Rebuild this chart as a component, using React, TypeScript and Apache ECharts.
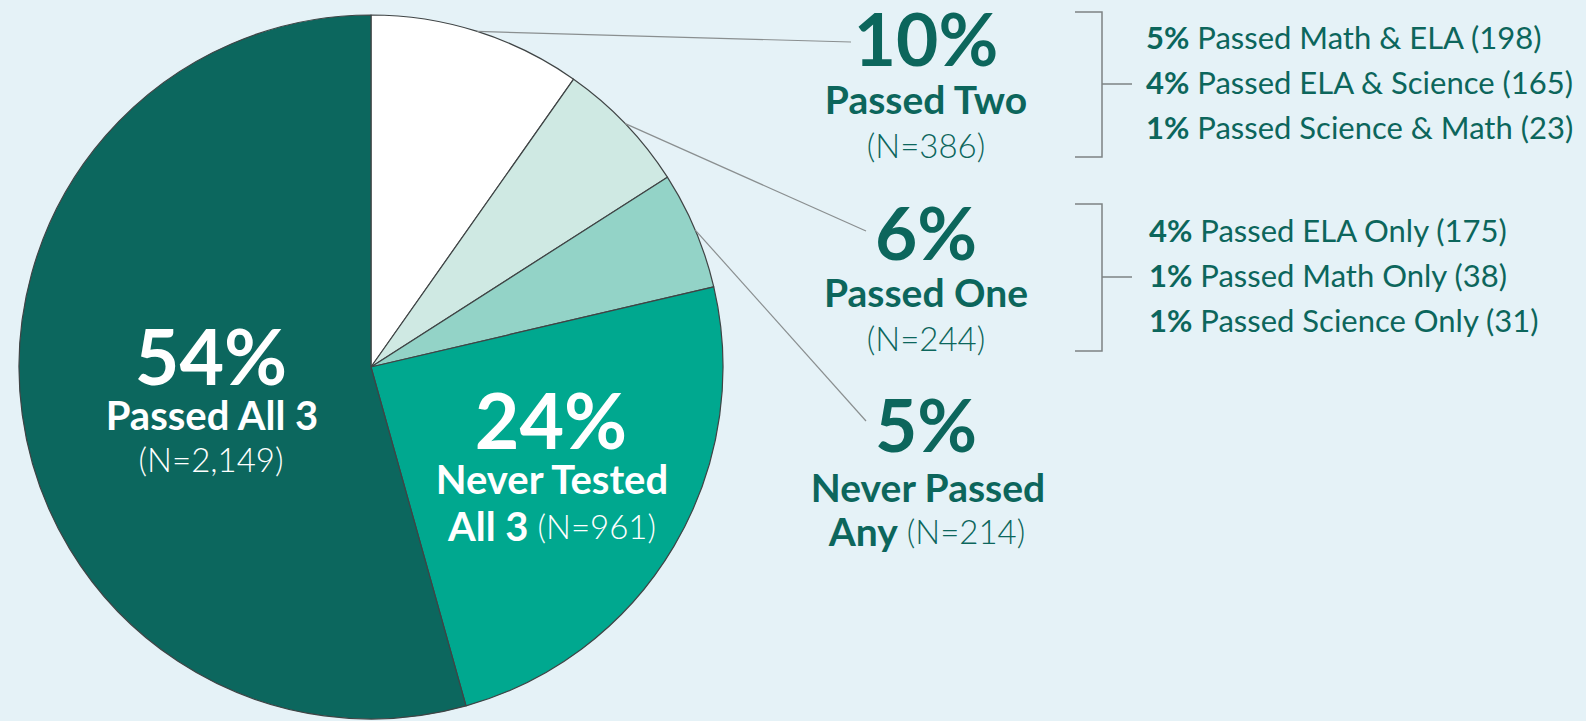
import React, { useEffect, useRef } from "react";
import * as echarts from "echarts";

// ---- Data ----
const categories = ["Passed Two", "Passed One", "Never Passed Any", "Never Tested All 3", "Passed All 3"];
const counts = [386, 244, 214, 961, 2149];
const percents = [10, 6, 5, 24, 54];
const sliceColors = ["#ffffff", "#cfe9e3", "#93d3c7", "#00a88f", "#0c675e"];

const passedTwoPct = [5, 4, 1];
const passedTwoLabels = ["Passed Math & ELA", "Passed ELA & Science", "Passed Science & Math"];
const passedTwoN = [198, 165, 23];

const passedOnePct = [4, 1, 1];
const passedOneLabels = ["Passed ELA Only", "Passed Math Only", "Passed Science Only"];
const passedOneN = [175, 38, 31];

const fmt = (n: number) => n.toLocaleString("en-US");

const W = 1586;
const H = 721;
const CX = 371;
const CY = 367;
const R = 352;
const GREEN = "#0c665c";
const FONT = "Lato, 'Open Sans', sans-serif";

export default function App() {
  const ref = useRef<HTMLDivElement>(null);

  useEffect(() => {
    document.body.style.margin = "0";
    const chart = echarts.init(ref.current!, undefined, { renderer: "svg", width: W, height: H });

    const total = counts.reduce((a, b) => a + b, 0);
    // mid-angle (clockwise from 12 o'clock) of each slice
    const mids: number[] = [];
    let acc = 0;
    counts.forEach((c) => {
      mids.push(((acc + c / 2) / total) * Math.PI * 2);
      acc += c;
    });
    const edgePt = (a: number) => [CX + R * Math.sin(a), CY - R * Math.cos(a)];

    const graphics: any[] = [];
    const txt = (text: string, x: number, y: number, size: number, weight: any, fill: string, align = "center") =>
      graphics.push({
        type: "text",
        silent: true,
        z: 100,
        style: {
          text,
          x,
          y,
          fill,
          fontSize: size,
          fontWeight: weight,
          fontFamily: FONT,
          lineHeight: Math.round(size * 0.78),
          textAlign: align,
          textVerticalAlign: "middle",
        },
      });
    const richTxt = (bold: string, light: string, x: number, y: number, fill: string, bs: number, ls: number, lw: number, align = "center") =>
      graphics.push({
        type: "text",
        silent: true,
        z: 100,
        style: {
          text: `{b|${bold}}{l|${light}}`,
          x,
          y,
          textAlign: align,
          textVerticalAlign: "middle",
          fill,
          rich: {
            b: { fontSize: bs, fontWeight: 700, fontFamily: FONT, fill, lineHeight: Math.round(bs * 0.9) },
            l: { fontSize: ls, fontWeight: lw, fontFamily: FONT, fill, lineHeight: Math.round(bs * 0.9) },
          },
        },
      });

    // leader lines for the three small slices
    const labelAnchors = [
      [851, 42],
      [866, 231],
      [866, 421],
    ];
    for (let i = 0; i < 3; i++) {
      const [sx, sy] = edgePt(mids[i]);
      graphics.push({
        type: "line",
        silent: true,
        z: 100,
        shape: { x1: sx, y1: sy, x2: labelAnchors[i][0], y2: labelAnchors[i][1] },
        style: { stroke: "#8a8f90", lineWidth: 1.2 },
      });
    }

    // Outside labels
    const LX = 926;
    txt(`${percents[0]}%`, LX, 38, 73, 700, GREEN);
    txt("Passed Two", LX, 99, 39, 700, GREEN);
    txt(`(N=${fmt(counts[0])})`, LX, 145, 33, 300, GREEN);

    txt(`${percents[1]}%`, LX, 232, 73, 700, GREEN);
    txt("Passed One", LX, 292, 39, 700, GREEN);
    txt(`(N=${fmt(counts[1])})`, LX, 338, 33, 300, GREEN);

    txt(`${percents[2]}%`, LX, 424, 73, 700, GREEN);
    txt("Never Passed", LX + 2, 487, 39, 700, GREEN);
    richTxt("Any", ` (N=${fmt(counts[2])})`, LX + 1, 531, GREEN, 39, 33, 300);

    // Inside labels
    txt(`${percents[4]}%`, 211, 355, 77, 700, "#ffffff");
    txt("Passed All 3", 212, 415, 40, 700, "#ffffff");
    txt(`(N=${fmt(counts[4])})`, 211, 459, 33, 300, "#ffffff");

    txt(`${percents[3]}%`, 551, 419, 77, 700, "#ffffff");
    txt("Never Tested", 552, 479, 40, 700, "#ffffff");
    richTxt("All 3", ` (N=${fmt(counts[3])})`, 552, 526, "#ffffff", 40, 33, 300);

    // Brackets
    const bracket = (top: number, bottom: number, mid: number) => {
      graphics.push({
        type: "polyline",
        silent: true,
        z: 100,
        shape: { points: [[1075, top], [1102, top], [1102, bottom], [1075, bottom]] },
        style: { stroke: "#7d8384", lineWidth: 1.5, fill: null },
      });
      graphics.push({
        type: "line",
        silent: true,
        z: 100,
        shape: { x1: 1102, y1: mid, x2: 1132, y2: mid },
        style: { stroke: "#7d8384", lineWidth: 1.5 },
      });
    };
    bracket(12, 157, 84);
    bracket(204, 351, 277);

    const list = (pcts: number[], labels: string[], ns: number[], x: number, ys: number[]) => {
      pcts.forEach((p, i) => {
        richTxt(`${p}%`, ` ${labels[i]} (${fmt(ns[i])})`, x, ys[i], GREEN, 31, 31, 400, "left");
      });
    };
    list(passedTwoPct, passedTwoLabels, passedTwoN, 1146, [37, 82, 127]);
    list(passedOnePct, passedOneLabels, passedOneN, 1149, [230, 275, 320]);

    chart.setOption({
      animation: false,
      backgroundColor: "#e5f2f7",
      series: [
        {
          type: "pie",
          center: [CX, CY],
          radius: [0, R],
          startAngle: 90,
          clockwise: true,
          silent: true,
          z: 2,
          label: { show: false },
          labelLine: { show: false },
          itemStyle: { borderColor: "#3f4445", borderWidth: 1.2 },
          data: categories.map((name, i) => ({
            name,
            value: counts[i],
            itemStyle: { color: sliceColors[i] },
          })),
        },
      ],
      graphic: graphics,
    });

    return () => chart.dispose();
  }, []);

  return <div ref={ref} style={{ width: W, height: H }} />;
}
